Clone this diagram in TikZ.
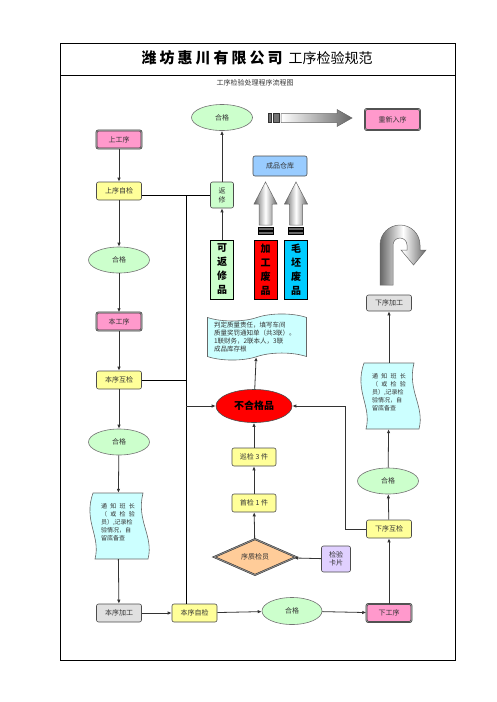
\documentclass[tikz,border=0pt]{standalone}
\usepackage{fontspec}
\setmainfont{Noto Sans CJK SC}
\usetikzlibrary{shapes.geometric,shapes.symbols,arrows.meta}

\definecolor{pinkbox}{RGB}{255,153,204}
\definecolor{yelbox}{RGB}{255,255,153}
\definecolor{grnell}{RGB}{204,255,204}
\definecolor{cyanbox}{RGB}{204,255,255}
\definecolor{graybox}{RGB}{224,224,224}
\definecolor{lilac}{RGB}{224,208,255}
\definecolor{peach}{RGB}{255,204,153}
\definecolor{skyblue}{RGB}{153,204,255}
\definecolor{deepsky}{RGB}{0,204,255}

\begin{document}
\begin{tikzpicture}[x=1pt,y=-1pt,
  every node/.style={text=black!80, font=\fontsize{7}{8}\selectfont, inner sep=1pt},
  stage/.style={rectangle, rounded corners=2pt, draw=black!80, line width=0.5pt, double=black!45, double distance=0.9pt, fill=pinkbox, minimum width=45pt, minimum height=18pt},
  check/.style={rectangle, rounded corners=2pt, draw=black!70, line width=0.6pt, fill=yelbox, minimum width=45pt, minimum height=18pt},
  work/.style={check, fill=graybox},
  pass/.style={ellipse, draw=black!55, line width=0.6pt, fill=grnell, minimum width=61pt, minimum height=26pt},
  notice/.style={rectangle, minimum width=50pt, minimum height=66pt, text width=34pt, align=left, font=\fontsize{6}{8}\selectfont},
  waveline/.style={draw=black!60, line width=0.6pt, fill=cyanbox},
  tallbox/.style={rectangle, draw=black, line width=0.8pt, minimum width=23pt, minimum height=59pt, inner sep=0pt, align=center, text=black, font=\bfseries\fontsize{10}{14}\selectfont},
  fatarrow/.style={draw=black!60, line width=0.5pt},
  flow/.style={-{Latex[length=4pt,width=3.5pt]}, line width=0.8pt, black!80},
  link/.style={line width=0.8pt, black}]
\useasboundingbox (0,0) rectangle (496,702);

% frame and heading
\draw[line width=0.8pt] (60,43) rectangle (455,660);
\draw[line width=0.8pt] (60,75) -- (455,75);
\node[text=black, font=\fontsize{15}{18}\selectfont] (title) at (257,58)
  {{\bfseries 潍\hspace{3pt}坊\hspace{3pt}惠\hspace{3pt}川\hspace{3pt}有\hspace{3pt}限\hspace{3pt}公\hspace{3pt}司}\hspace{6pt}{\fontsize{14}{16}\selectfont 工序检验规范}};
\node (subtitle) at (255,83) {工序检验处理程序流程图};

% left column
\node[stage] (upproc) at (119,139.5) {上工序};
\node[check] (upself) at (119,191) {上序自检};
\node[pass] (okA) at (119,260) {合格};
\node[stage] (thisproc) at (119,321.5) {本工序};
\node[check] (mutual) at (119,380) {本序互检};
\node[pass] (okB) at (119,442) {合格};
\begin{scope}[shift={(118,526)}]
  \path[waveline] (-25,-33) -- (25,-33) .. controls (18,-5) and (36,10) .. (30,33) -- (-23,33) .. controls (-17,10) and (-35,-5) .. (-25,-33) -- cycle;
\end{scope}
\node[notice] (noteL) at (118,526) {通\hfill 知\hfill 班\hfill 长\\（\hfill 或\hfill 检\hfill 验\\员）,记录检\\验情况，自\\留底备查\\~};
\node[work] (thiswork) at (119,613) {本序加工};

% bottom row
\node[check] (selfchk) at (194.5,613) {本序自检};
\node[pass, minimum width=60pt, minimum height=27pt] (okC) at (292,611) {合格};
\node[stage] (nextproc) at (389,613) {下工序};

% right column
\node[check] (nextmut) at (389,529) {下序互检};
\node[pass] (okD) at (388,481) {合格};
\begin{scope}[shift={(389,396)}]
  \path[waveline] (-25,-33) -- (25,-33) .. controls (18,-5) and (36,10) .. (30,33) -- (-23,33) .. controls (-17,10) and (-35,-5) .. (-25,-33) -- cycle;
\end{scope}
\node[notice] (noteR) at (389,396) {通\hfill 知\hfill 班\hfill 长\\（\hfill 或\hfill 检\hfill 验\\员）,记录检\\验情况，自\\留底备查\\~};
\node[work, minimum height=16pt] (nextwork) at (389,303) {下序加工};
\shadedraw[fatarrow, left color=black!60, right color=black!60, middle color=white]
  (380,285) -- (380,245) arc[start angle=180, end angle=360, radius=20] -- (420,250) -- (426,250) -- (413.5,265) -- (401,250) -- (407,250) -- (407,245) arc[start angle=360, end angle=180, radius=7] -- (393,285) -- cycle;

% middle column
\node[diamond, aspect=2.3, minimum width=82pt, minimum height=36pt, inner sep=0pt, fill=peach, draw=black!80, line width=0.5pt, double=black!45, double distance=0.9pt] (inspector) at (255,557) {序质检员};
\node[check, fill=lilac, minimum width=29pt, minimum height=26pt, align=center] (card) at (336,559) {检验\\卡片};
\node[check, minimum width=44pt] (first) at (254,503) {首检 1 件};
\node[check, minimum width=44pt] (patrol) at (254,457) {巡检 3 件};
\node[ellipse, fill=red, draw=black!70, line width=0.6pt, minimum width=76pt, minimum height=33pt, text=black, font=\bfseries\fontsize{10}{12}\selectfont] (reject) at (254,406) {不合格品};
\node[tape, tape bend top=in and out, tape bend bottom=in and out, tape bend height=7pt, draw=black!60, line width=0.6pt, fill=cyanbox, minimum width=99pt, minimum height=44pt, text width=86pt, align=left, font=\fontsize{6.5}{8}\selectfont] (judge) at (257,337) {判定质量责任，填写车间\\质量奖罚通知单（共3联）。\\1联财务，2联本人，3联\\成品库存根};
\node[tallbox, fill=grnell] (repairable) at (222,269.5) {可\\返\\修\\品};
\node[tallbox, fill=red] (scrapwork) at (265.5,269.5) {加\\工\\废\\品};
\node[tallbox, fill=deepsky] (scrapblank) at (296,269.5) {毛\\坯\\废\\品};
\node[check, fill=grnell, minimum width=23pt, minimum height=26pt, align=center, font=\fontsize{7}{9}\selectfont] (repair) at (222,195) {返\\修};
\node[pass] (okE) at (222,117.5) {合格};
\node[check, fill=skyblue, minimum width=54pt, minimum height=20pt] (store) at (280,166) {成品仓库};
\node[stage, minimum width=55pt, minimum height=21pt] (reenter) at (392.5,119.5) {重新入序};

% fat arrows
\filldraw[fill=black!55, draw=black!80, line width=0.4pt] (268,113.5) rectangle (271,122.5);
\filldraw[fill=black!55, draw=black!80, line width=0.4pt] (273,113.5) rectangle (279,122.5);
\shadedraw[fatarrow, left color=white, right color=black!60] (281,113.5) -- (337,113.5) -- (337,109.5) -- (352,118) -- (337,126.5) -- (337,122.5) -- (281,122.5) -- cycle;
\foreach \cx in {265.5,296} {
  \shadedraw[fatarrow, left color=black!60, right color=black!60, middle color=white] (\cx-6.5,225) -- (\cx-6.5,204) -- (\cx-11.5,204) -- (\cx,182) -- (\cx+11.5,204) -- (\cx+6.5,204) -- (\cx+6.5,225) -- cycle;
  \filldraw[fill=black!60, draw=black, line width=0.4pt] (\cx-7.5,227) rectangle (\cx+7.5,230);
  \filldraw[fill=black!60, draw=black, line width=0.4pt] (\cx-7.5,231) rectangle (\cx+7.5,234);
}

% connectors
\draw[flow] (upproc) -- (upself);
\draw[flow] (upself) -- (okA);
\draw[flow] (okA) -- (thisproc);
\draw[flow] (thisproc) -- (mutual);
\draw[flow] (mutual) -- (okB);
\draw[flow] (okB) -- (noteL);
\draw[flow] (noteL) -- (thiswork);
\draw[flow] (thiswork) -- (selfchk);
\draw[flow] (selfchk) -- (okC);
\draw[flow] (okC) -- (nextproc);
\draw[flow] (nextproc) -- (nextmut);
\draw[flow] (nextmut) -- (okD);
\draw[flow] (okD) -- (noteR);
\draw[flow] (noteR) -- (nextwork);
\draw[flow] (card) -- (inspector);
\draw[flow] (inspector) -- (first);
\draw[flow] (first) -- (patrol);
\draw[flow] (patrol) -- (reject);
\draw[flow] (reject) -- (judge);
\draw[flow] (repairable) -- (repair);
\draw[flow] (repair) -- (okE);

\coordinate (trunk) at (186,195);
\coordinate (rbend) at (345,406);
\draw[link] (upself.east |- repair.west) -- (repair.west);
\draw[link] (trunk) -- (trunk |- selfchk.north);
\draw[link] (mutual.east) -- (mutual.east -| trunk);
\draw[flow] (trunk |- reject.west) -- (reject.west);
\draw[flow] (nextmut.west) -| (rbend) -- (reject.east);
\end{tikzpicture}
\end{document}
